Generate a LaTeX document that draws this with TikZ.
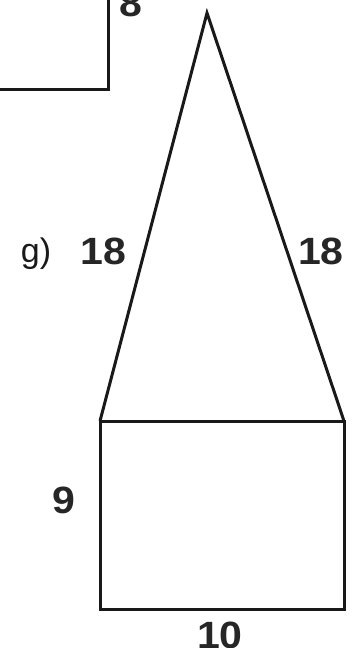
\documentclass[tikz,border=0pt]{standalone}
\usepackage{fontspec}
\setmainfont{Liberation Sans}
\tikzset{
  edge/.style={line width=3pt, line join=miter, black!90},
  num/.style={font=\fontsize{38}{38}\selectfont\bfseries, text=black!85, inner sep=0pt, xscale=1.08},
  lbl/.style={font=\fontsize{34}{34}\selectfont, text=black!90, inner sep=0pt}
}
\begin{document}
\begin{tikzpicture}[x=1pt,y=-1pt]
\useasboundingbox (0,0) rectangle (356,648);
% partial shape at top
\coordinate (ra) at (-10,89);
\coordinate (rb) at (108,89);
\coordinate (rc) at (108,-10);
\draw[edge] (ra) -- (rb) -- (rc);
\node[num] (l8) at (131,3) {8};
% triangle + rectangle
\coordinate (apex) at (207,13);
\coordinate (bl) at (100,421);
\coordinate (br) at (344,421);
\coordinate (ll) at (100,609);
\coordinate (lr) at (344,609);
\draw[edge] (bl) -- (apex) -- (br);
\draw[edge] (bl) -- (br) -- (lr) -- (ll) -- cycle;
\node[num] (s1) at (103.5,251) {18};
\node[num] (s2) at (321,251) {18};
\node[lbl] (g) at (36,254) {g)};
\node[num] (h) at (63.5,500) {9};
\node[num] (w) at (220,635) {10};
\end{tikzpicture}
\end{document}
